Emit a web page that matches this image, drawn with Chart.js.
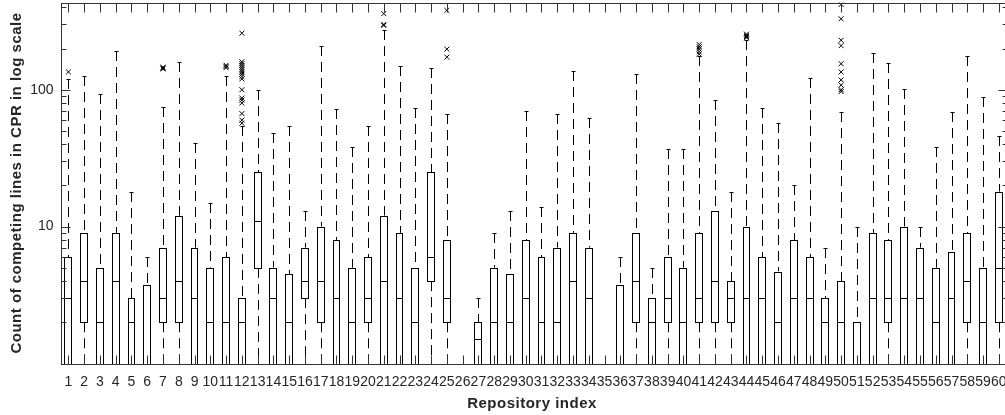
<!DOCTYPE html>
<html>
<head>
<meta charset="utf-8">
<script src="https://cdn.jsdelivr.net/npm/chart.js@4.4.1/dist/chart.umd.min.js"></script>
<style>
html,body{margin:0;padding:0;background:#fff;overflow:hidden;width:1005px;height:415px;}
#wrap{position:absolute;left:0;top:0;width:1012px;height:415px;}
</style>
</head>
<body>
<div id="wrap"><canvas id="c" width="1012" height="415"></canvas></div>
<script>
// ---- data ----
const repositoryLabels = ['1','2','3','4','5','6','7','8','9','10','11','12','13','14','15','16','17','18','19','20',
  '21','22','23','24','25','26','27','28','29','30','31','32','33','34','35','36','37','38','39','40',
  '41','42','43','44','45','46','47','48','49','50','51','52','53','54','55','56','57','58','59','60'];

const q1Values = [1,2,1,1,1,1,2,2,1,1, 1,1,5,1,1,3,2,1,1,2, 1,1,1,4,2,1,1,1,1,1,
                  1,1,1,1,1,1,2,1,2,1, 2,2,2,1,1,1,1,1,1,1, 1,1,2,1,1,1,1,2,1,2];
const medianValues = [3,4,2,4,2,1,3,4,3,2, 2,2,11,3,2,4,4,3,2,3, 4,3,2,6,3,1,1.5,2,2,3,
                  2,2,4,3,1,1,4,2,3,2, 3,4,3,3,3,2,3,3,2,2, 1,3,3,3,3,2,3,4,2,5];
const q3Values = [6,9,5,9,3,3.75,7,12,7,5, 6,3,25,5,4.5,7,10,8,5,6, 12,9,5,25,8,1,2,5,4.5,8,
                  6,7,9,7,1,3.75,9,3,6,5, 9,13,4,10,6,4.7,8,6,3,4, 2,9,8,10,7,5,6.5,9,5,18];
const whiskerLow = [1,1,1,1,1,1,1,1,1,1, 1,1,1,1,1,1,1,1,1,1, 1,1,1,1,1,1,1,1,1,1,
                  1,1,1,1,1,1,1,1,1,1, 1,1,1,1,1,1,1,1,1,1, 1,1,1,1,1,1,1,1,1,1];
const whiskerHigh = [120,126,93,193,18,6,75,159,41,15, 125,54,99,48,54,13,210,72,38,54,
                  275,150,73,144,66,1,3,9,13,70, 14,66,136,62,1,6,131,5,37,37,
                  175,84,18,232,74,57,20,122,7,69, 10,185,158,102,10,38,69,175,88,46];
const outlierValues = {
  '1':  [135],
  '7':  [142,144,146],
  '11': [145,148,151],
  '12': [259,160,155,150,145,140,135,130,125,120,100,87,84,80,67,60,57],
  '21': [360,300,295],
  '25': [380,198,173],
  '41': [182,190,198,206,214],
  '44': [240,245,250,255],
  '50': [420,330,230,210,155,135,118,108,100,97]
};
const yTickValues = [10, 100];
const yMin = 1, yMax = 434;

const outlierPoints = Object.entries(outlierValues)
  .flatMap(([rep, vals]) => vals.map(v => ({x: rep, y: v})));

const FONT = '"Liberation Sans", Arial, Helvetica, sans-serif';
const TEXT = '#262626';
const AXIS = '#333333';
const px = v => Math.round(v) + 0.5;

const decor = {
  id: 'decor',
  beforeDatasetsDraw(chart) {
    const {ctx} = chart, xs = chart.scales.x, ys = chart.scales.y;
    ctx.save();
    ctx.strokeStyle = '#000';
    ctx.lineWidth = 1;
    for (let i = 0; i < repositoryLabels.length; i++) {
      const x = px(xs.getPixelForValue(i));
      if (whiskerHigh[i] > q3Values[i]) {
        const y0 = ys.getPixelForValue(q3Values[i]), y1 = Math.round(ys.getPixelForValue(whiskerHigh[i]));
        ctx.setLineDash([10, 6]);
        ctx.beginPath(); ctx.moveTo(x, y1); ctx.lineTo(x, y0); ctx.stroke();
        ctx.setLineDash([]);
        ctx.beginPath(); ctx.moveTo(x - 2, y1 + 0.5); ctx.lineTo(x + 2, y1 + 0.5); ctx.stroke();
      }
      if (whiskerLow[i] < q1Values[i]) {
        const y0 = ys.getPixelForValue(q1Values[i]), y1 = ys.getPixelForValue(whiskerLow[i]);
        ctx.setLineDash([10, 6]);
        ctx.beginPath(); ctx.moveTo(x, y0); ctx.lineTo(x, y1); ctx.stroke();
        ctx.setLineDash([]);
      }
    }
    ctx.restore();
  },
  afterDatasetsDraw(chart) {
    const {ctx} = chart, ys = chart.scales.y;
    const bars = chart.getDatasetMeta(0).data;
    ctx.save();
    ctx.strokeStyle = '#000';
    ctx.lineWidth = 1;
    for (let i = 0; i < bars.length; i++) {
      const {x, y, base, width} = bars[i].getProps(['x', 'y', 'base', 'width'], true);
      const l = px(x - width / 2), r = px(x + width / 2) - 1;
      const t = px(Math.min(y, base)), b = px(Math.max(y, base));
      ctx.strokeRect(l, t, r - l, b - t);
      const ym = px(ys.getPixelForValue(medianValues[i]));
      ctx.beginPath(); ctx.moveTo(l, ym); ctx.lineTo(r, ym); ctx.stroke();
    }
    ctx.restore();
  },
  afterDraw(chart) {
    const {ctx, chartArea: a} = chart, xs = chart.scales.x, ys = chart.scales.y;
    ctx.save();
    ctx.strokeStyle = AXIS;
    ctx.lineWidth = 1;
    const L = px(a.left), T = px(a.top), R = px(a.right), B = px(a.bottom);
    ctx.strokeRect(L, T, R - L, B - T);
    ctx.beginPath();
    for (let i = 0; i < repositoryLabels.length; i++) {
      const x = px(xs.getPixelForValue(i));
      ctx.moveTo(x, T); ctx.lineTo(x, T + 9);
      ctx.moveTo(x, B); ctx.lineTo(x, B - 9);
    }
    for (let d = 1; d <= 100; d *= 10) {
      for (let m = 1; m <= 9; m++) {
        const v = m * d;
        if (v < yMin || v > yMax) continue;
        const y = px(ys.getPixelForValue(v));
        const len = m === 1 ? 9 : 5;
        ctx.moveTo(L, y); ctx.lineTo(L + len, y);
        ctx.moveTo(R, y); ctx.lineTo(R - len, y);
      }
    }
    ctx.stroke();
    ctx.fillStyle = TEXT;
    ctx.font = 'bold 15px ' + FONT;
    try { ctx.letterSpacing = '0.5px'; } catch (e) {}
    ctx.textAlign = 'center';
    ctx.textBaseline = 'alphabetic';
    ctx.fillText('Repository index', 532, 408);
    ctx.translate(21, (a.top + a.bottom) / 2);
    ctx.rotate(-Math.PI / 2);
    ctx.fillText('Count of competing lines in CPR in log scale', 0, 0);
    ctx.restore();
  }
};

new Chart(document.getElementById('c'), {
  type: 'bar',
  data: {
    labels: repositoryLabels,
    datasets: [
      { type: 'bar', label: 'box', data: q1Values.map((v, i) => [v, q3Values[i]]),
        backgroundColor: '#ffffff', borderWidth: 0, barPercentage: 0.5, categoryPercentage: 1, order: 2 },
      { type: 'scatter', label: 'outliers', data: outlierPoints, pointStyle: 'crossRot', pointRadius: 3.5,
        borderColor: '#000000', backgroundColor: '#000000', borderWidth: 1, order: 1 }
    ]
  },
  options: {
    responsive: false,
    animation: false,
    devicePixelRatio: 1,
    layout: {autoPadding: false, padding: {top: 2.5, right: 5.3, left: 0, bottom: 0}},
    plugins: {legend: {display: false}, tooltip: {enabled: false}},
    scales: {
      x: {
        type: 'category', offset: true,
        grid: {display: false, drawTicks: false}, border: {display: false},
        ticks: {autoSkip: false, maxRotation: 0, minRotation: 0, padding: 10, color: TEXT, font: {family: FONT, size: 14}},
        afterFit: s => { s.height = 51.5; s.paddingLeft = 0; s.paddingRight = 0; }
      },
      y: {
        type: 'logarithmic', min: yMin, max: yMax, bounds: 'data',
        grid: {display: false, drawTicks: false}, border: {display: false},
        ticks: {padding: 7, color: TEXT, font: {family: FONT, size: 14}, callback: v => String(v)},
        afterBuildTicks: s => { s.ticks = yTickValues.map(v => ({value: v})); },
        afterFit: s => { s.width = 60.5; s.paddingTop = 0; s.paddingBottom = 0; }
      }
    }
  },
  plugins: [decor]
});
</script>
</body>
</html>
